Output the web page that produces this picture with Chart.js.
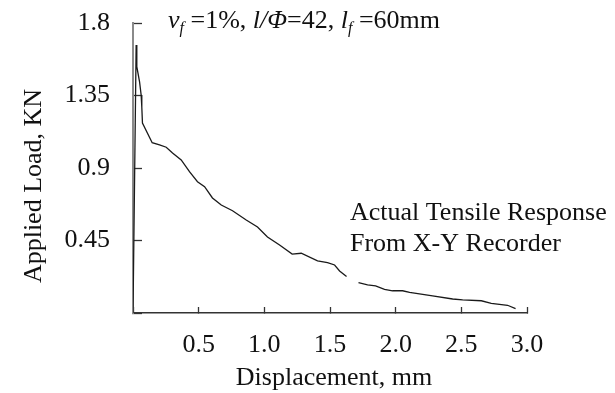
<!DOCTYPE html>
<html>
<head>
<meta charset="utf-8">
<script src="https://cdn.jsdelivr.net/npm/chart.js@4.4.0/dist/chart.umd.min.js"></script>
<style>
  html, body { margin: 0; padding: 0; background: #fff; }
  #wrap { width: 615px; height: 393px; }
</style>
</head>
<body>
<div id="wrap"><canvas id="grafico"></canvas></div>
<script>
// displacement (mm) and load (kN), null = gap in trace
const deslocamento = [0, 0.024, 0.029, 0.05, 0.062, 0.067, 0.072, 0.146, 0.202, 0.253, 0.301, 0.367, 0.43, 0.491, 0.545, 0.605, 0.672, 0.758, 0.862, 0.948, 1.024, 1.116, 1.212, 1.281, 1.405, 1.481, 1.535, 1.573, 1.626, 1.67, 1.717, 1.786, 1.847, 1.915, 1.976, 2.053, 2.106, 2.281, 2.434, 2.51, 2.652, 2.728, 2.852, 2.913]
const carga = [0, 1.664, 1.529, 1.434, 1.353, 1.279, 1.179, 1.057, 1.043, 1.029, 0.993, 0.95, 0.877, 0.815, 0.784, 0.714, 0.67, 0.635, 0.577, 0.534, 0.472, 0.422, 0.366, 0.371, 0.323, 0.313, 0.298, 0.261, 0.227, null, 0.188, 0.174, 0.169, 0.147, 0.138, 0.138, 0.128, 0.106, 0.087, 0.081, 0.076, 0.06, 0.048, 0.027]

const xTicks = [0, 0.5, 1.0, 1.5, 2.0, 2.5, 3.0]
const xLabels = ['', '0.5', '1.0', '1.5', '2.0', '2.5', '3.0']
const yTicks = [0, 0.45, 0.9, 1.35, 1.8]
const yLabels = ['', '0.45', '0.9', '1.35', '1.8']

const fonte = '"Liberation Serif", "Times New Roman", serif'
const tam = 26

function pontos() {
    return deslocamento.map((x, i) => ({ x: x, y: carga[i] }))
}

// draws a run of text pieces, each with its own style
function textoRico(ctx, x, y, partes) {
    partes.forEach(p => {
        ctx.font = (p.italic ? 'italic ' : '') + p.size + 'px ' + fonte
        ctx.fillText(p.t, x, y + (p.dy || 0))
        x += ctx.measureText(p.t).width
    })
}

const textos = {
    id: 'textos',
    afterDraw(chart) {
        const ctx = chart.ctx
        ctx.save()
        ctx.fillStyle = '#111'
        ctx.textBaseline = 'alphabetic'
        ctx.textAlign = 'left'
        textoRico(ctx, 168, 28, [
            { t: 'v', italic: true, size: tam },
            { t: 'f', italic: true, size: 16, dy: 5 },
            { t: ' =1%, ', size: tam },
            { t: 'l/\u03A6', italic: true, size: tam },
            { t: '=42, ', size: tam },
            { t: 'l', italic: true, size: tam },
            { t: 'f', italic: true, size: 16, dy: 5 },
            { t: ' =60mm', size: tam }
        ])
        ctx.font = tam + 'px ' + fonte
        ctx.fillText('Actual Tensile Response', 350, 220)
        ctx.fillText('From X-Y Recorder', 350, 251)

        ctx.textAlign = 'center'
        ctx.fillText('Displacement, mm', 334, 385)

        ctx.translate(41, 186)
        ctx.rotate(-Math.PI / 2)
        ctx.fillText('Applied Load, KN', 0, 0)
        ctx.restore()
    }
}

const grafico = new Chart(document.getElementById('grafico'), {
    type: 'line',
    data: {
        datasets: [{
            label: 'Actual Tensile Response',
            data: pontos(),
            borderColor: '#1a1a1a',
            borderWidth: 1.3,
            pointRadius: 0,
            tension: 0,
            spanGaps: false
        }]
    },
    options: {
        responsive: true,
        maintainAspectRatio: false,
        animation: false,
        layout: { padding: { top: 23, right: 88, bottom: 0, left: 0 } },
        plugins: { legend: { display: false }, tooltip: { enabled: false } },
        scales: {
            x: {
                type: 'linear',
                min: 0,
                max: 3.0,
                afterFit: s => { s.height = 80; s.paddingLeft = 0; s.paddingRight = 0 },
                afterBuildTicks: s => { s.ticks = xTicks.map(v => ({ value: v })) },
                border: { color: '#333', width: 1.5 },
                grid: { drawOnChartArea: false, tickLength: -6, tickColor: '#333', tickWidth: 1.3 },
                ticks: {
                    padding: 23,
                    color: '#111',
                    maxRotation: 0,
                    font: { family: fonte, size: tam },
                    callback: (v, i) => xLabels[i]
                }
            },
            y: {
                min: 0,
                max: 1.8,
                afterFit: s => { s.width = 133; s.paddingTop = 0; s.paddingBottom = 0 },
                afterBuildTicks: s => { s.ticks = yTicks.map(v => ({ value: v })) },
                border: { color: '#8a8a8a', width: 2 },
                grid: { drawOnChartArea: false, tickLength: -9, tickColor: '#333', tickWidth: 1.3 },
                ticks: {
                    padding: 32,
                    color: '#111',
                    font: { family: fonte, size: tam },
                    callback: (v, i) => yLabels[i]
                }
            }
        }
    },
    plugins: [textos]
})
</script>
</body>
</html>
